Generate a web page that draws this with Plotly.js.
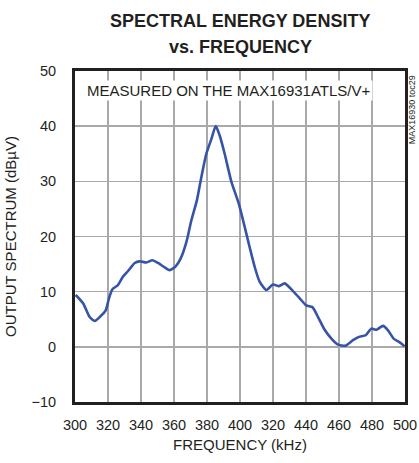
<!DOCTYPE html>
<html>
<head>
<meta charset="utf-8">
<script src="https://cdn.plot.ly/plotly-3.0.1.min.js"></script>
<style>html,body{margin:0;padding:0;background:#fff;}#chart{width:419px;height:463px;}</style>
</head>
<body>
<div id="chart"></div>
<script>
const freqKHz = [300.4,304.9,308.9,312,315,318.6,320.6,322.6,326,329,332,336.2,339.2,343.3,346.9,350.3,354.4,357.4,361,364,367.5,370.5,373.9,376.6,379.6,382.7,385.3,387.7,390.7,394.8,399.3,405.4,408.9,411.9,416,420,423.6,427.1,432.1,436.2,440.2,443.9,447.3,451.3,455.4,459.4,464,468.5,472.1,476.2,479.6,482.7,486.7,489.7,493.1,496.8,499.8];
const spectrumDbuV = [9.4,7.9,5.4,4.7,5.4,6.6,8.8,10.4,11.2,12.7,13.7,15.2,15.5,15.3,15.7,15.2,14.4,13.9,14.6,16,19,22.9,26.6,30.8,35,37.7,40,38.3,35,29.9,25.9,18.6,14.5,11.8,10.3,11.3,11.0,11.5,10.1,8.8,7.5,7.2,5.4,3.1,1.5,0.4,0.2,1.2,1.8,2.1,3.3,3.1,3.8,3.0,1.5,0.8,0.1];
const xTickVals = [300,320,340,360,380,400,420,440,460,480,500];
const xTickText = ["300","320","340","360","380","400","320","440","460","480","500"];
const yTickVals = [-10,0,10,20,30,40,50];

const FONT = '"Liberation Sans Narrow", "Arial Narrow", "Liberation Sans", Arial, sans-serif';
const INK = '#231f20';

const trace = {
  x: freqKHz, y: spectrumDbuV, type: 'scatter', mode: 'lines',
  line: {color: '#3654a6', width: 2.6, shape: 'spline', smoothing: 0.6},
  hoverinfo: 'skip'
};

const layout = {
  width: 419, height: 463,
  margin: {l: 75, r: 14, t: 71, b: 61},
  paper_bgcolor: '#fff', plot_bgcolor: '#fff',
  showlegend: false,
  font: {family: FONT, color: INK, size: 14},
  xaxis: {
    range: [300, 500], tickmode: 'array', tickvals: xTickVals, ticktext: xTickText,
    showgrid: true, gridcolor: '#a9a9a9', gridwidth: 1.5,
    zeroline: false, showline: true, linecolor: INK, linewidth: 3, mirror: true,
    ticks: '', ticklen: 0, ticklabelstandoff: 8, tickfont: {size: 14.5, family: FONT, color: INK},
    title: {text: 'FREQUENCY (kHz)', font: {size: 15, family: FONT, color: INK}, standoff: 8}
  },
  yaxis: {
    range: [-10, 50], tickmode: 'array', tickvals: yTickVals,
    showgrid: true, gridcolor: '#a9a9a9', gridwidth: 1.5,
    zeroline: false, showline: true, linecolor: INK, linewidth: 3, mirror: true,
    ticks: '', ticklen: 0, ticklabelstandoff: 13, tickfont: {size: 14.5, family: FONT, color: INK},
    title: {text: 'OUTPUT SPECTRUM (dBµV)', font: {size: 15, family: FONT, color: INK}, standoff: 12}
  },
  annotations: [
    {text: '<b>SPECTRAL ENERGY DENSITY</b>', xref: 'paper', yref: 'paper',
     x: 0.5, y: 1, yshift: 50, xanchor: 'center', yanchor: 'middle', showarrow: false,
     font: {size: 18, family: FONT, color: INK}},
    {text: '<b>vs. FREQUENCY</b>', xref: 'paper', yref: 'paper',
     x: 0.5, y: 1, yshift: 24, xanchor: 'center', yanchor: 'middle', showarrow: false,
     font: {size: 18, family: FONT, color: INK}},
    {text: 'MEASURED ON THE MAX16931ATLS/V+', xref: 'paper', yref: 'paper',
     x: 0.03, y: 0.94, xanchor: 'left', yanchor: 'middle', showarrow: false,
     font: {size: 15, family: FONT, color: INK}, bgcolor: '#fff'},
    {text: 'MAX16930 toc29', xref: 'paper', yref: 'paper',
     x: 1.021, y: 0.884, xanchor: 'center', yanchor: 'middle', textangle: -90, showarrow: false,
     font: {size: 9, family: FONT, color: INK}}
  ]
};

Plotly.newPlot('chart', [trace], layout, {staticPlot: true, displayModeBar: false});
</script>
</body>
</html>
